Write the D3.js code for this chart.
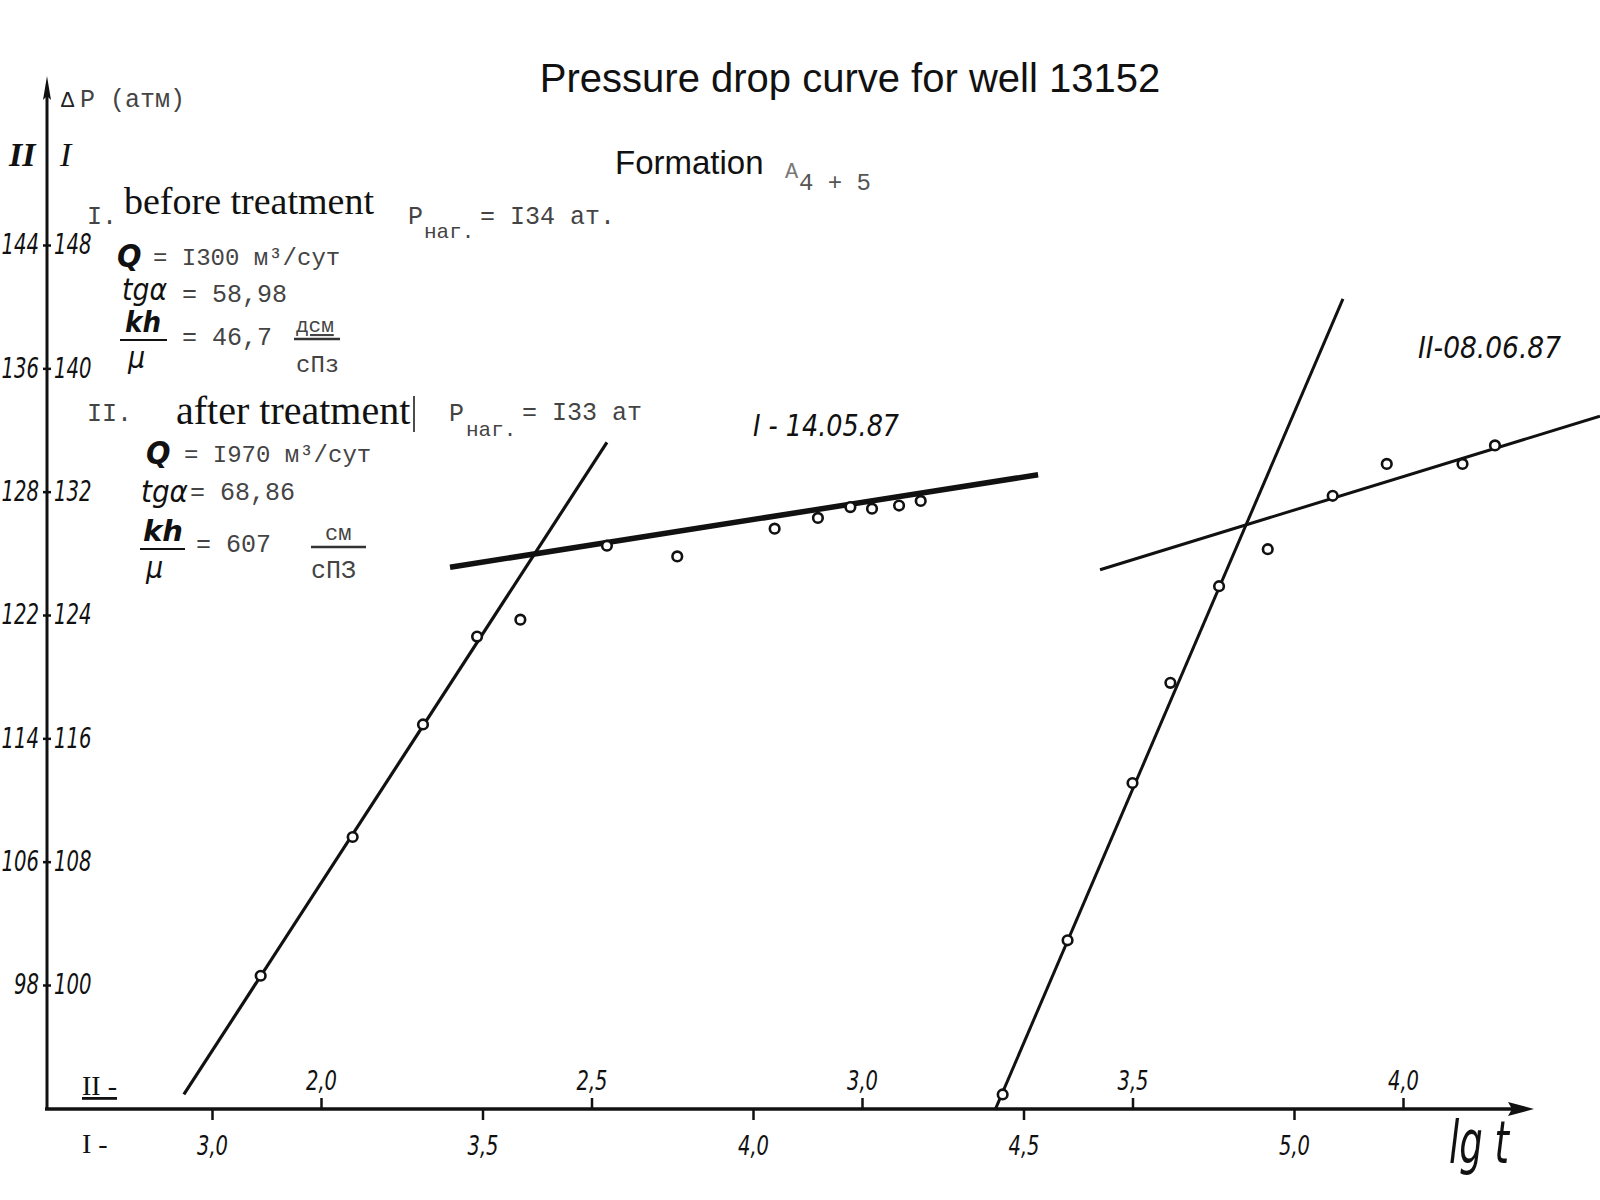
<!DOCTYPE html>
<html>
<head>
<meta charset="utf-8">
<script src="https://cdn.jsdelivr.net/npm/d3@7"></script>
<style>
  body { margin: 0; background: #fff; }
  .hand { font-family: "Liberation Sans Narrow", "DejaVu Sans Condensed", "DejaVu Sans", sans-serif; font-style: italic; fill: #111; }
  .type { font-family: "Liberation Mono", "DejaVu Sans Mono", monospace; fill: #444; }
  .serif { font-family: "Liberation Serif", "DejaVu Serif", serif; fill: #111; }
  .sans { font-family: "Liberation Sans", Arial, sans-serif; fill: #111; }
</style>
</head>
<body>
<svg id="chart"></svg>
<script>
// Axis ticks (I = lower / right scale, II = upper / left scale)
const xTicksI = [3.0, 3.5, 4.0, 4.5, 5.0];
const xTicksII = [2.0, 2.5, 3.0, 3.5, 4.0];
const yTicksI = [100, 108, 116, 124, 132, 140, 148];
const yTicksII = [98, 106, 114, 122, 128, 136, 144];

// Series I - 14.05.87 (before treatment), read on scales I
const lgtI = [3.09, 3.26, 3.39, 3.49, 3.57, 3.73, 3.86, 4.04, 4.12, 4.18, 4.22, 4.27, 4.31];
const dpI = [100.6, 109.6, 116.9, 122.6, 123.7, 128.5, 127.8, 129.6, 130.3, 131.0, 130.9, 131.1, 131.4];
// straight lines drawn through series I
const steepI_x = [2.948, 3.73];
const steepI_y = [92.9, 135.2];
const flatI_x = [3.44, 4.527];
const flatI_y = [127.1, 133.1];

// Series II - 08.06.87 (after treatment), read on scales II
const lgtII = [3.26, 3.38, 3.50, 3.57, 3.66, 3.75, 3.87, 3.97, 4.11, 4.17];
const dpII = [90.9, 100.9, 111.1, 117.6, 123.4, 125.2, 127.8, 129.8, 129.8, 131.0];
const steepII_x = [3.246, 3.889];
const steepII_y = [89.9, 140.5];
const flatII_x = [3.44, 4.364];
const flatII_y = [124.2, 132.9];

const W = 1600, H = 1200;
const axisX = 47, axisY = 1109;

const svg = d3.select("#chart").attr("width", W).attr("height", H);
svg.append("rect").attr("width", W).attr("height", H).attr("fill", "#fff");

// Scales
const xI = d3.scaleLinear().domain([3.0, 5.0]).range([212, 1294]);
const xII = d3.scaleLinear().domain([2.0, 4.0]).range([321, 1403]);
const yI = d3.scaleLinear().domain([100, 148]).range([985, 245]);
// labels of scale II were written at the same tick marks
const yII = d3.scaleLinear().domain(yTicksII).range(yTicksI.map(yI));

const fmt = d => d.toFixed(1).replace(".", ",");

// Axes lines with arrows
svg.append("line")
  .attr("x1", axisX - 2).attr("x2", 1515)
  .attr("y1", axisY).attr("y2", axisY)
  .attr("stroke", "#111").attr("stroke-width", 3.5);
svg.append("path")
  .attr("d", `M1534,${axisY} L1508,${axisY - 7} L1512,${axisY} L1508,${axisY + 7} Z`)
  .attr("fill", "#111");
svg.append("line")
  .attr("x1", axisX).attr("x2", axisX)
  .attr("y1", axisY).attr("y2", 95)
  .attr("stroke", "#111").attr("stroke-width", 3);
svg.append("path")
  .attr("d", `M${axisX},76 L${axisX - 4},100 L${axisX},96 L${axisX + 4},100 Z`)
  .attr("fill", "#111");

// X axis I (below)
const gxI = svg.append("g")
  .attr("transform", `translate(0,${axisY})`)
  .call(d3.axisBottom(xI).tickValues(xTicksI).tickSize(11).tickPadding(16).tickFormat(fmt));
// X axis II (above)
const gxII = svg.append("g")
  .attr("transform", `translate(0,${axisY})`)
  .call(d3.axisTop(xII).tickValues(xTicksII).tickSize(11).tickPadding(8).tickFormat(fmt));
// Y axis I (labels right of axis)
const gyI = svg.append("g")
  .attr("transform", `translate(${axisX},0)`)
  .call(d3.axisRight(yI).tickValues(yTicksI).tickSize(4).tickPadding(3).tickFormat(d3.format("d")));
// Y axis II (labels left of axis)
const gyII = svg.append("g")
  .attr("transform", `translate(${axisX},0)`)
  .call(d3.axisLeft(yI).tickValues(yTicksI).tickSize(4).tickPadding(4).tickFormat((d, i) => yTicksII[i]));

[gxI, gxII, gyI, gyII].forEach(g => {
  g.select(".domain").remove();
  g.selectAll(".tick line").attr("stroke", "#111").attr("stroke-width", 2.5);
  g.selectAll(".tick text")
    .attr("fill", "#111")
    .style("font-family", "\"Liberation Sans Narrow\", \"DejaVu Sans Condensed\", sans-serif")
    .style("font-style", "italic")
    .style("font-size", "28px")
    .attr("lengthAdjust", "spacingAndGlyphs")
    .attr("textLength", function () { return this.textContent.length * 12.5; });
});
[gxI, gxII].forEach(g => g.selectAll(".tick text")
  .style("font-size", "27px")
  .attr("textLength", 31));

// Fitted straight lines
const lineI = d3.line().x(d => xI(d[0])).y(d => yI(d[1]));
const lineII = d3.line().x(d => xII(d[0])).y(d => yII(d[1]));

svg.append("path").datum(d3.zip(steepI_x, steepI_y)).attr("d", lineI)
  .attr("fill", "none").attr("stroke", "#111").attr("stroke-width", 3.2);
svg.append("path").datum(d3.zip(flatI_x, flatI_y)).attr("d", lineI)
  .attr("fill", "none").attr("stroke", "#111").attr("stroke-width", 5.5);
svg.append("path").datum(d3.zip(steepII_x, steepII_y)).attr("d", lineII)
  .attr("fill", "none").attr("stroke", "#111").attr("stroke-width", 3);
svg.append("path").datum(d3.zip(flatII_x, flatII_y)).attr("d", lineII)
  .attr("fill", "none").attr("stroke", "#111").attr("stroke-width", 3);

// Measured points
svg.append("g").selectAll("circle")
  .data(d3.zip(lgtI, dpI))
  .join("circle")
  .attr("cx", d => xI(d[0])).attr("cy", d => yI(d[1])).attr("r", 4.8)
  .attr("fill", "#fff").attr("stroke", "#111").attr("stroke-width", 2.6);
svg.append("g").selectAll("circle")
  .data(d3.zip(lgtII, dpII))
  .join("circle")
  .attr("cx", d => xII(d[0])).attr("cy", d => yII(d[1])).attr("r", 4.8)
  .attr("fill", "#fff").attr("stroke", "#111").attr("stroke-width", 2.6);

// Helper for text
function txt(x, y, s, cls, size, extra) {
  const t = svg.append("text").attr("x", x).attr("y", y).attr("class", cls)
    .style("font-size", size + "px").text(s);
  if (extra) extra(t);
  return t;
}
const squeeze = w => t => t.attr("textLength", w).attr("lengthAdjust", "spacingAndGlyphs");

// Titles
txt(850, 92, "Pressure drop curve for well 13152", "sans", 40, t => t.attr("text-anchor", "middle"));
txt(615, 174, "Formation", "sans", 33);
txt(785, 178, "А", "type", 22, t => t.style("fill", "#777"));
txt(799, 190, "4 + 5", "type", 24, t => t.style("fill", "#555"));

// Axis captions
txt(61, 107, "\u0394", "type", 22, t => t.style("fill", "#222"));
txt(80, 107, "P (атм)", "type", 25);
txt(9, 166, "II", "serif", 34, t => t.style("font-style", "italic").style("font-weight", "bold"));
txt(60, 166, "I", "serif", 34, t => t.style("font-style", "italic"));
txt(82, 1095, "II -", "serif", 28, t => t.style("text-decoration", "underline"));
txt(82, 1153, "I -", "serif", 28);
txt(1449, 1163, "lg t", "hand", 58, squeeze(60));

// Block I
txt(87, 224, "I.", "type", 25);
txt(124, 214, "before treatment", "serif", 38);
txt(408, 224, "P", "type", 25);
txt(424, 238, "наг.", "type", 21);
txt(480, 224, "= I34 ат.", "type", 25);
txt(117, 267, "Q", "hand", 32, t => t.style("font-weight", "bold"));
txt(153, 265, "= I300 м\u00B3/сут", "type", 24);
txt(122, 300, "tg\u03B1", "hand", 30, squeeze(45));
txt(182, 302, "= 58,98", "type", 25);
txt(125, 332, "kh", "hand", 28, t => { t.style("font-weight", "bold"); squeeze(36)(t); });
svg.append("line").attr("x1", 120).attr("x2", 167).attr("y1", 340).attr("y2", 340)
  .attr("stroke", "#111").attr("stroke-width", 2);
txt(128, 368, "\u03BC", "hand", 30);
txt(182, 345, "= 46,7", "type", 25);
txt(296, 332, "дсм", "type", 21, t => t.style("text-decoration", "underline"));
svg.append("line").attr("x1", 294).attr("x2", 340).attr("y1", 339).attr("y2", 339)
  .attr("stroke", "#333").attr("stroke-width", 2.5);
txt(296, 372, "сПз", "type", 24);

// Block II
txt(87, 421, "II.", "type", 25);
txt(176, 424, "after treatment", "serif", 40);
svg.append("line").attr("x1", 414).attr("x2", 414).attr("y1", 396).attr("y2", 432)
  .attr("stroke", "#111").attr("stroke-width", 1.5);
txt(449, 421, "P", "type", 25);
txt(466, 436, "наг.", "type", 21);
txt(522, 420, "= I33 ат", "type", 25);
txt(146, 464, "Q", "hand", 32, t => t.style("font-weight", "bold"));
txt(184, 462, "= I970 м\u00B3/сут", "type", 24);
txt(141, 502, "tg\u03B1", "hand", 30, squeeze(47));
txt(190, 500, "= 68,86", "type", 25);
txt(143, 541, "kh", "hand", 28, t => { t.style("font-weight", "bold"); squeeze(40)(t); });
svg.append("line").attr("x1", 140).attr("x2", 185).attr("y1", 549).attr("y2", 549)
  .attr("stroke", "#111").attr("stroke-width", 2);
txt(146, 578, "\u03BC", "hand", 30);
txt(196, 552, "= 607", "type", 25);
txt(325, 540, "см", "type", 22);
svg.append("line").attr("x1", 311).attr("x2", 366).attr("y1", 547).attr("y2", 547)
  .attr("stroke", "#333").attr("stroke-width", 2.5);
txt(311, 578, "сПЗ", "type", 25);

// Curve labels
txt(753, 436, "I - 14.05.87", "hand", 30, squeeze(146));
txt(1418, 358, "II-08.06.87", "hand", 30, squeeze(143));
</script>
</body>
</html>
